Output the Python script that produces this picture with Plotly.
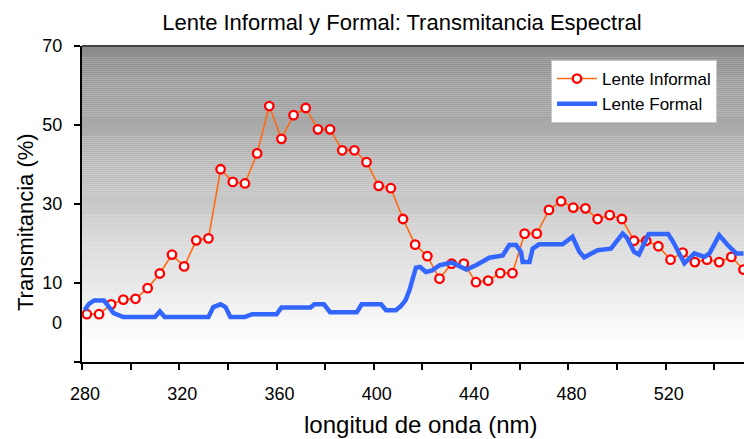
import plotly.graph_objects as go

# ---------------- data ----------------
informal_x = [282, 287, 292, 297, 302, 307, 312, 317, 322, 327, 332, 337, 342, 347, 352,
              357, 362, 367, 372, 377, 382, 387, 392, 397, 402, 407, 412, 417, 422, 427,
              432, 437, 442, 447, 452, 457, 462, 467, 472, 477, 482, 487, 492, 497, 502,
              507, 512, 517, 522, 527, 532, 537, 542, 547, 552]
informal_y = [2.1, 2.1, 4.6, 5.8, 6.0, 8.7, 12.4, 17.2, 14.2, 20.8, 21.3, 38.8, 35.6, 35.2, 42.8,
              54.8, 46.5, 52.5, 54.3, 48.9, 48.9, 43.6, 43.6, 40.6, 34.6, 34.0, 26.2, 19.7, 16.8, 11.1,
              14.9, 14.9, 10.2, 10.6, 12.5, 12.5, 22.5, 22.5, 28.5, 30.7, 29.1, 28.9, 26.2, 27.2, 26.2,
              20.7, 20.7, 19.3, 15.9, 17.7, 15.3, 15.9, 15.3, 16.6, 13.4]

formal_x = [281, 283, 285, 289, 291, 293, 297, 310, 312, 314, 332, 334, 337, 339, 341, 347,
            350, 360, 362, 374, 375.5, 379.5, 382, 393, 395, 403, 405, 409, 411, 413, 414.6,
            416, 417.3, 419, 421.4, 424, 427, 432, 438, 442, 447.5, 453, 455.7, 458.5, 460.5,
            461.2, 464, 465.3, 468, 477.6, 481.7, 484.5, 486.5, 492, 497.5, 502.3, 504, 507,
            509, 513, 521, 523, 526.3, 527.7, 531.8, 536, 538, 542, 545.5, 549, 552]
formal_y = [3.1, 4.8, 5.6, 5.6, 4.0, 2.4, 1.4, 1.4, 2.8, 1.4, 1.4, 3.9, 4.6, 3.9, 1.4, 1.4,
            2.1, 2.1, 3.8, 3.8, 4.6, 4.6, 2.6, 2.6, 4.6, 4.6, 3.1, 3.1, 4.1, 5.6, 8.1,
            11.1, 13.9, 14.1, 12.8, 13.2, 14.5, 15.2, 13.4, 14.5, 16.4, 17.0, 19.6, 19.6, 17.9,
            15.3, 15.3, 18.7, 19.8, 19.8, 21.7, 17.9, 16.5, 18.3, 18.7, 22.5, 21.5, 17.9,
            17.2, 22.4, 22.4, 20.5, 16.6, 15.0, 17.5, 16.6, 17.5, 22.1, 19.6, 17.5, 17.5]

x_ticks = [280, 300, 320, 340, 360, 380, 400, 420, 440, 460, 480, 500, 520, 540]
x_ticklabels = ["280", "", "320", "", "360", "", "400", "", "440", "", "480", "", "520", ""]
y_ticks = [-10, 10, 30, 50, 70]
y_ticklabels = ["", "10", "30", "50", "70"]

title_text = "Lente Informal y Formal: Transmitancia Espectral"
x_title = "longitud de onda (nm)"
y_title = "Transmitancia (%)"

# ---------------- figure ----------------
W, H = 744, 439
ML, MR, MT, MB = 82, 0, 46, 77
PW, PH = W - ML - MR, H - MT - MB
FONT = "Liberation Sans, Arial, sans-serif"

fig = go.Figure()

fig.add_trace(go.Scatter(
    x=informal_x, y=informal_y, mode="lines+markers", name="Lente Informal",
    line=dict(color="#FF6A13", width=1.6),
    marker=dict(symbol="circle", size=8.5, color="white", line=dict(color="#FF0000", width=2.3)),
))
fig.add_trace(go.Scatter(
    x=formal_x, y=formal_y, mode="lines", name="Lente Formal",
    line=dict(color="#3366FF", width=4.5),
))

# gradient background for the plot area
y0, y1 = -10, 70
n = 160
for i in range(n):
    a = y0 + (y1 - y0) * i / n
    b = y0 + (y1 - y0) * (i + 1) / n
    mid = (a + b) / 2
    t = max(0.0, (mid - (-5)) / (70 - (-5)))
    g = int(round(255 - t * (255 - 138)))
    fig.add_shape(type="rect", xref="paper", yref="y", x0=0, x1=1, y0=a, y1=b,
                  fillcolor=f"rgb({g},{g},{g})", line=dict(width=0), layer="below")

# top border line of plot area
fig.add_shape(type="line", xref="paper", yref="paper", x0=0, x1=1, y0=1, y1=1,
              line=dict(color="#444444", width=2))

fig.update_layout(
    width=W, height=H,
    margin=dict(l=ML, r=MR, t=MT, b=MB, autoexpand=False),
    paper_bgcolor="white", plot_bgcolor="white",
    font=dict(family=FONT, color="black"),
    title=dict(text=title_text, x=402 / W, xanchor="center", y=1 - 22 / H, yanchor="middle",
               xref="container", yref="container", font=dict(size=22, family=FONT, color="black")),
    showlegend=True,
    legend=dict(x=(551 - ML) / PW, y=(H - MB - 60) / PH,
                xanchor="left", yanchor="top", bgcolor="white",
                bordercolor="#C8C8C8", borderwidth=1,
                font=dict(size=17, family=FONT, color="black"),
                tracegroupgap=0, itemwidth=40),
    xaxis=dict(range=[280, 280 + PW / 2.432], tickvals=x_ticks, ticktext=x_ticklabels,
               ticks="outside", ticklen=6, tickwidth=2, tickcolor="black",
               showline=True, linecolor="black", linewidth=2, showgrid=False, zeroline=False,
               tickfont=dict(size=18, family=FONT, color="black"), ticklabelstandoff=8,
               ticklabelshift=3, fixedrange=True),
    yaxis=dict(range=[-10, 70], tickvals=y_ticks, ticktext=y_ticklabels,
               ticks="outside", ticklen=6, tickwidth=2, tickcolor="black",
               showline=True, linecolor="black", linewidth=2, showgrid=False, zeroline=False,
               tickfont=dict(size=18, family=FONT, color="black"), ticklabelstandoff=8,
               fixedrange=True),
)

# "0" label (no tick) on the y axis
fig.add_annotation(x=0, y=0, xref="paper", yref="y", text="0", showarrow=False,
                   xanchor="right", yanchor="middle", xshift=-18,
                   font=dict(size=18, family=FONT, color="black"))
# axis titles
fig.add_annotation(x=(420 - ML) / PW, y=(H - MB - 424) / PH, xref="paper", yref="paper",
                   text=x_title, showarrow=False, xanchor="center", yanchor="middle",
                   font=dict(size=24, family=FONT, color="black"))
fig.add_annotation(x=(25 - ML) / PW, y=(H - MB - 222) / PH, xref="paper", yref="paper",
                   text=y_title, showarrow=False, xanchor="center", yanchor="middle",
                   textangle=-90, font=dict(size=22, family=FONT, color="black"))

fig.write_html("out.html", config={"displayModeBar": False},
               post_script="document.body.style.margin='0';document.body.style.overflow='hidden';")
